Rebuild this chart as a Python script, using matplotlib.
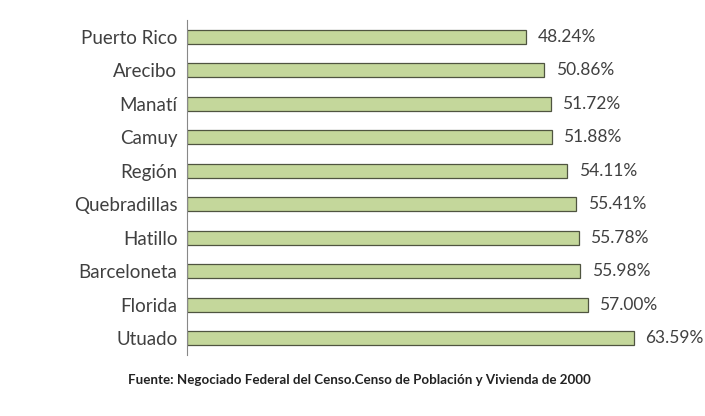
import matplotlib
matplotlib.use("Agg")
import matplotlib.pyplot as plt

# data, top to bottom as in the picture
places = ["Puerto Rico", "Arecibo", "Manatí", "Camuy", "Región",
          "Quebradillas", "Hatillo", "Barceloneta", "Florida", "Utuado"]
percent = [48.24, 50.86, 51.72, 51.88, 54.11, 55.41, 55.78, 55.98, 57.00, 63.59]
source_note = "Fuente: Negociado Federal del Censo.Censo de Población y Vivienda de 2000"

plt.rcParams['font.family'] = ['Lato', 'DejaVu Sans']

fig = plt.figure(figsize=(7.05, 4.16), dpi=100)
W, H = 705, 416
ax = fig.add_axes([187 / W, 1 - 355 / H, 492 / W, 335 / H])

ypos = list(range(len(places)))
ax.barh(ypos, percent, height=0.42, color='#c4d79b', edgecolor='#4f5440', linewidth=0.9)

for y, v in zip(ypos, percent):
    ax.text(v + 1.6, y, f"{v:.2f}%", va='center', ha='left', fontsize=12.5, color='#404040')

ax.set_ylim(len(places) - 0.5, -0.5)
ax.set_xlim(0, 70)
ax.set_yticks(ypos)
ax.set_yticklabels(places, fontsize=13.5, color='#404040')
ax.tick_params(axis='y', length=0, pad=7)
ax.set_xticks([])

for side in ['top', 'right', 'bottom']:
    ax.spines[side].set_visible(False)
ax.spines['left'].set_color('#888888')
ax.spines['left'].set_linewidth(0.8)

fig.text(359 / W, 1 - 380 / H, source_note, ha='center', va='center',
         fontsize=9.6, fontweight='bold', color='#222222')

fig.savefig("out.png", dpi=100)
